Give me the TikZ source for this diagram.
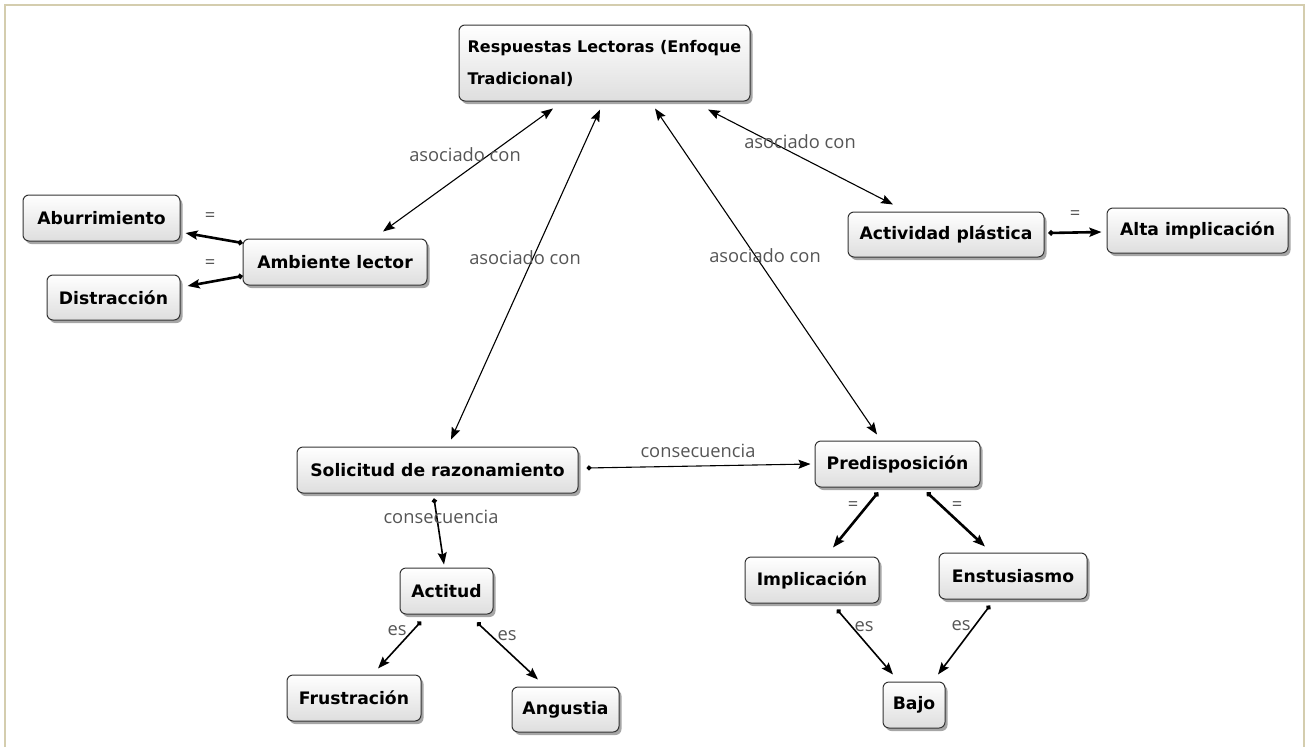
\documentclass[tikz,border=0pt]{standalone}
\usepackage{fontspec}
\setmainfont{DejaVu Sans}
\newfontfamily\labelfont{Open Sans}
\usetikzlibrary{arrows.meta,shadows}
\definecolor{framecol}{HTML}{D4CDAE}
\definecolor{boxline}{HTML}{333333}
\definecolor{labelcol}{HTML}{555555}
\definecolor{boxbottom}{HTML}{DEDEDE}
\tikzset{
  concept/.style={draw=boxline, line width=1pt, rounded corners=6pt,
    top color=white, bottom color=boxbottom,
    drop shadow={shadow xshift=2.5pt, shadow yshift=-3pt, opacity=0.35, fill=black},
    font=\fontsize{17.2}{20}\selectfont\bfseries, inner sep=0pt, text=black},
  lbl/.style={font=\labelfont\fontsize{18.3}{20}\selectfont, text=labelcol, inner sep=0pt},
  twoway/.style={{Stealth[length=12pt,width=9pt,inset=2pt]}-{Stealth[length=12pt,width=9pt,inset=2pt]}, line width=1.1pt},
  thin link/.style={{Circle[length=5pt]}-{Stealth[length=12pt,width=9pt,inset=2pt]}, line width=1.1pt},
  mid link/.style={{Circle[length=5pt]}-{Stealth[length=12pt,width=9pt,inset=2pt]}, line width=1.6pt},
  thick link/.style={{Circle[length=5pt]}-{Stealth[length=12pt,width=9pt,inset=2pt]}, line width=2.6pt},
}
\begin{document}
\begin{tikzpicture}[x=1pt,y=-1pt]
\useasboundingbox (0,0) rectangle (1306,747);
% outer frame (open at the bottom)
\draw[framecol, line width=2pt] (5,747) -- (5,5) -- (1304,5) -- (1304,747);

% concepts
\node[concept, minimum width=291pt, minimum height=76pt, align=left,
      font=\fontsize{16}{32}\selectfont\bfseries] (top) at (604.5,63)
      {Respuestas Lectoras (Enfoque\\Tradicional)};
\node[concept, minimum width=157pt, minimum height=46pt] (abu) at (101.5,218) {Aburrimiento};
\node[concept, minimum width=184pt, minimum height=46pt] (amb) at (335,262) {Ambiente lector};
\node[concept, minimum width=133pt, minimum height=45pt] (dis) at (113.5,297.5) {Distracción};
\node[concept, minimum width=196pt, minimum height=45pt] (act) at (946,234.5) {Actividad plástica};
\node[concept, minimum width=181pt, minimum height=45pt] (alta) at (1197.5,230.5) {Alta implicación};
\node[concept, minimum width=281pt, minimum height=46pt] (sol) at (437.5,470) {Solicitud de razonamiento};
\node[concept, minimum width=165pt, minimum height=46pt] (pre) at (897.5,464) {Predisposición};
\node[concept, minimum width=93pt, minimum height=46pt] (acti) at (446.5,591) {Actitud};
\node[concept, minimum width=134pt, minimum height=46pt] (fru) at (354,698) {Frustración};
\node[concept, minimum width=107pt, minimum height=45pt] (ang) at (565.5,709.5) {Angustia};
\node[concept, minimum width=134pt, minimum height=46pt] (imp) at (812,580) {Implicación};
\node[concept, minimum width=148pt, minimum height=46pt] (ens) at (1013,576) {Enstusiasmo};
\node[concept, minimum width=62pt, minimum height=46pt] (baj) at (914,705) {Bajo};

% links from the central concept
\draw[twoway] ([xshift=-51.5pt,yshift=-7pt]top.south) -- ([xshift=48pt,yshift=7pt]amb.north);
\draw[twoway] ([xshift=-4.5pt,yshift=-8pt]top.south) -- ([xshift=13.5pt,yshift=7pt]sol.north);
\draw[twoway] ([xshift=50.5pt,yshift=-7pt]top.south) -- ([xshift=-20.5pt,yshift=6pt]pre.north);
\draw[twoway] ([xshift=103.5pt,yshift=-8pt]top.south) -- ([xshift=-53pt,yshift=7pt]act.north);

% other links
\draw[thick link] ([yshift=19pt]amb.west) -- ([xshift=5pt,yshift=-15pt]abu.east);
\draw[thick link] ([yshift=-14pt]amb.west) -- ([xshift=7pt,yshift=11.5pt]dis.east);
\draw[thick link] ([xshift=4pt,yshift=1.5pt]act.east) -- ([xshift=-5pt,yshift=-1.5pt]alta.west);
\draw[thin link] ([xshift=8pt,yshift=2pt]sol.east) -- ([xshift=-4pt]pre.west);
\draw[mid link] ([xshift=-3.5pt,yshift=-5pt]sol.south) -- ([xshift=-2.5pt,yshift=3pt]acti.north);
\draw[thick link] ([xshift=-19.5pt,yshift=-5pt]pre.south) -- ([xshift=21pt,yshift=9pt]imp.north);
\draw[thick link] ([xshift=29.5pt,yshift=-5pt]pre.south) -- ([xshift=-28pt,yshift=6pt]ens.north);
\draw[mid link] ([xshift=25pt,yshift=-6pt]imp.south) -- ([xshift=-21pt,yshift=7pt]baj.north);
\draw[mid link] ([xshift=-23pt,yshift=-6pt]ens.south) -- ([xshift=24pt,yshift=7pt]baj.north);
\draw[mid link] ([xshift=-25.5pt,yshift=-7pt]acti.south) -- ([xshift=24pt,yshift=6pt]fru.north);
\draw[mid link] ([xshift=30.5pt,yshift=-8pt]acti.south) -- ([xshift=-27.5pt,yshift=7pt]ang.north);

% link phrases
\node[lbl] (l1) at (465,155) {asociado con};
\node[lbl] (l2) at (525,258) {asociado con};
\node[lbl] (l3) at (765,256) {asociado con};
\node[lbl] (l4) at (800,142) {asociado con};
\node[lbl] (l5) at (210,217) {=};
\node[lbl] (l6) at (210,264) {=};
\node[lbl] (l7) at (1075,215) {=};
\node[lbl] (l8) at (698,451) {consecuencia};
\node[lbl] (l9) at (441,517) {consecuencia};
\node[lbl] (l10) at (853,506) {=};
\node[lbl] (l11) at (957,506) {=};
\node[lbl] (l12) at (864,627) {es};
\node[lbl] (l13) at (961,626) {es};
\node[lbl] (l14) at (397,631) {es};
\node[lbl] (l15) at (507,636) {es};
\end{tikzpicture}
\end{document}
